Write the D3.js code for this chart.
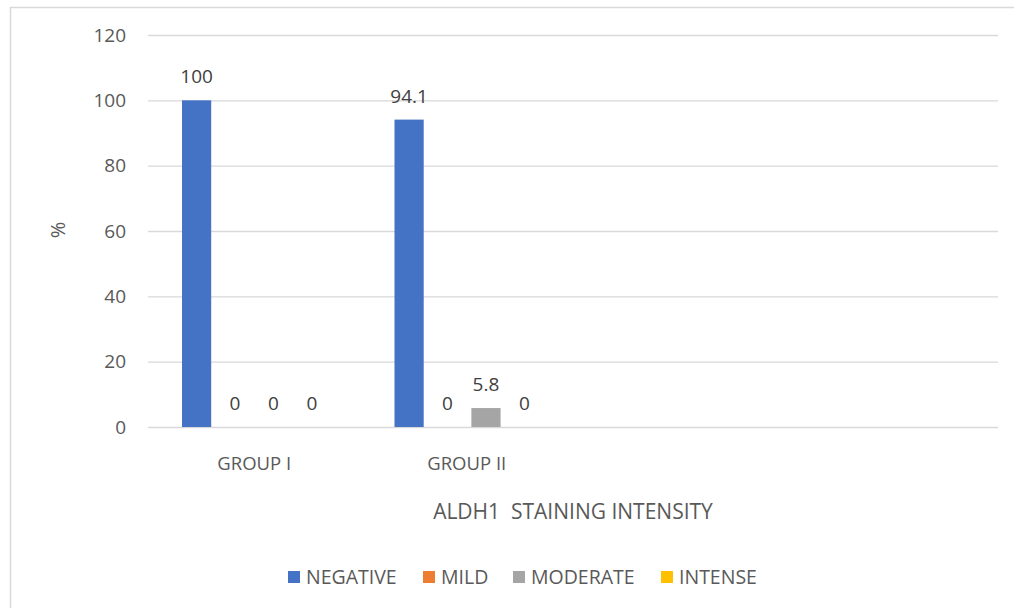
<!DOCTYPE html>
<html>
<head>
<meta charset="utf-8">
<script src="https://cdn.jsdelivr.net/npm/d3@7"></script>
<style>
  html, body { margin: 0; padding: 0; background: #fff; }
  svg { display: block; font-family: "Open Sans", "Noto Sans", sans-serif; }
</style>
</head>
<body>
<svg id="chart" width="1014" height="608"></svg>
<script>
// Groups along the x axis (two trailing empty slots keep the original spacing)
const categories = ["GROUP I", "GROUP II", "", ""];
const seriesNames = ["NEGATIVE", "MILD", "MODERATE", "INTENSE"];
const seriesColors = ["#4472c4", "#ed7d31", "#a5a5a5", "#ffc000"];
// Percentage per series, one entry per group
const negative = [100, 94.1, null, null];
const mild = [0, 0, null, null];
const moderate = [0, 5.8, null, null];
const intense = [0, 0, null, null];
const yTicks = [0, 20, 40, 60, 80, 100, 120];

const seriesValues = [negative, mild, moderate, intense];

const svg = d3.select("#chart");
const W = 1014, H = 608;
const plot = { left: 148, right: 998, top: 35, bottom: 427 };

// Outer chart frame
svg.append("rect")
  .attr("x", 10.5).attr("y", 7.5)
  .attr("width", W + 20).attr("height", H + 20)
  .attr("fill", "#fff").attr("stroke", "#d9d9d9").attr("stroke-width", 1.5);

const x0 = d3.scaleBand().domain(d3.range(categories.length))
  .range([plot.left, plot.right]).padding(0);
const bw = x0.bandwidth();
const x1 = d3.scaleBand().domain(seriesNames)
  .range([bw * 0.16, bw * 0.84]).paddingInner(0.24).paddingOuter(0);
const y = d3.scaleLinear().domain([0, 120]).range([plot.bottom, plot.top]);

// Gridlines and y tick labels
const yAxis = d3.axisLeft(y).tickValues(yTicks).tickSize(-(plot.right - plot.left)).tickPadding(22);
const gy = svg.append("g").attr("transform", `translate(${plot.left},0)`).call(yAxis);
gy.select(".domain").remove();
gy.selectAll(".tick line").attr("stroke", "#d9d9d9").attr("stroke-width", 1.3);
gy.selectAll(".tick text").attr("fill", "#595959").attr("font-size", 19)
  .attr("font-family", "\"Open Sans\", sans-serif");

// Bars
const groups = svg.append("g").selectAll("g")
  .data(categories.map((c, i) => ({ c, i })))
  .join("g")
  .attr("transform", d => `translate(${x0(d.i)},0)`);

const cells = groups.selectAll("g.cell")
  .data(d => seriesNames.map((s, k) => ({ s, k, v: seriesValues[k][d.i] })).filter(e => e.v !== null))
  .join("g").attr("class", "cell");

cells.append("rect")
  .attr("x", d => x1(d.s))
  .attr("width", x1.bandwidth())
  .attr("y", d => y(d.v))
  .attr("height", d => y(0) - y(d.v))
  .attr("fill", d => seriesColors[d.k]);

cells.append("text")
  .attr("x", d => x1(d.s) + x1.bandwidth() / 2)
  .attr("y", d => y(d.v) - 17)
  .attr("text-anchor", "middle")
  .attr("fill", "#404040")
  .attr("font-size", 19)
  .text(d => d.v);

// Category labels
svg.append("g").selectAll("text")
  .data(categories)
  .join("text")
  .attr("x", (d, i) => x0(i) + bw / 2)
  .attr("y", 470)
  .attr("text-anchor", "middle")
  .attr("fill", "#595959")
  .attr("font-size", 18.5)
  .text(d => d);

// Axis titles
svg.append("text")
  .attr("x", (plot.left + plot.right) / 2).attr("y", 519)
  .attr("text-anchor", "middle").attr("fill", "#595959").attr("font-size", 21)
  .attr("xml:space", "preserve")
  .text("ALDH1  STAINING INTENSITY");

svg.append("text")
  .attr("transform", "translate(65,230) rotate(-90)")
  .attr("text-anchor", "middle").attr("fill", "#595959").attr("font-size", 20)
  .text("%");

// Legend
const legendX = [288, 423, 513, 661];
const lg = svg.append("g").selectAll("g")
  .data(seriesNames)
  .join("g")
  .attr("transform", (d, i) => `translate(${legendX[i]},571)`);
lg.append("rect").attr("width", 12).attr("height", 12)
  .attr("fill", (d, i) => seriesColors[i]);
lg.append("text").attr("x", 18).attr("y", 13)
  .attr("fill", "#595959").attr("font-size", 19.5)
  .text(d => d);
</script>
</body>
</html>
